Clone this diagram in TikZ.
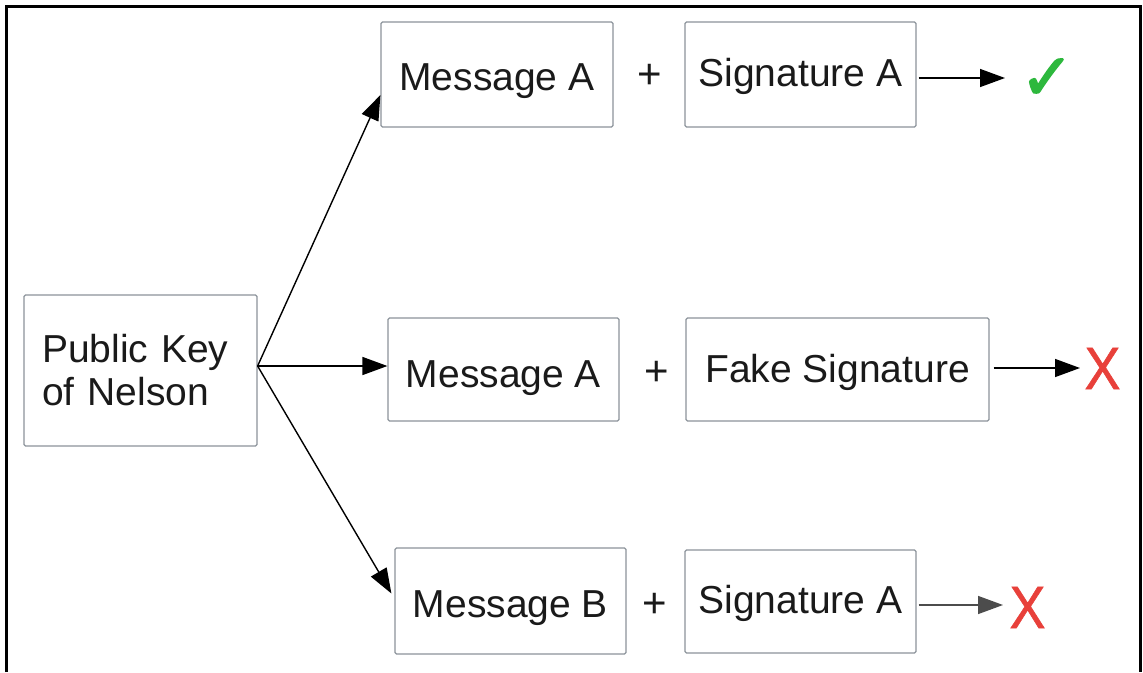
\documentclass[tikz,border=0pt]{standalone}
\usepackage{fontspec}
\setmainfont{Liberation Sans}
\newfontfamily\symfont[FakeBold=2.5]{DejaVu Sans}
\newfontfamily\crossfont[FakeBold=1]{Liberation Sans}
\usetikzlibrary{arrows.meta,calc}
\definecolor{boxgray}{HTML}{8C939B}
\definecolor{okgreen}{HTML}{2DB83D}
\definecolor{badred}{HTML}{E8403A}
\definecolor{txt}{HTML}{1A1A1A}
\tikzset{
  box/.style={draw=boxgray, line width=1.2pt, rounded corners=1.5pt, fill=white,
    inner sep=0pt, text=txt, font=\fontsize{39}{43}\selectfont},
  capshift/.style={text height=#1, text depth=0pt},
  plus/.style={text=txt, font=\fontsize{42}{42}\selectfont, inner sep=0pt},
  arr/.style={-{Triangle[length=25pt,width=18pt]}, line width=1.4pt, draw=black},
  okmark/.style={text=okgreen, font=\symfont\fontsize{64}{64}\selectfont, inner sep=0pt},
  badmark/.style={text=badred, font=\crossfont\fontsize{60}{60}\selectfont, inner sep=0pt, xscale=0.9},
}
\begin{document}
\begin{tikzpicture}[x=1pt,y=-1pt]
\useasboundingbox (0,0) rectangle (1143,672);
\fill[white] (0,0) rectangle (1143,672);
\draw[line width=3pt, line join=miter] (6.5,672) -- (6.5,6.5) -- (1140.5,6.5) -- (1140.5,672);

% left box
\node[box, minimum width=233pt, minimum height=151pt, text width=197pt, align=left,
  inner xsep=18pt] (pk) at (140.5,370.5) {Public Key\\of Nelson};

% top row
\node[box, capshift=31pt, minimum width=232pt, minimum height=105pt] (m1) at (497,74.5) {Message A};
\node[plus] (p1) at (650,76) {+};
\node[box, capshift=24pt, minimum width=231pt, minimum height=105pt] (s1) at (800.5,74.5) {Signature A};
\node[okmark] (ok) at (1047,79) {✓};

% middle row
\node[box, capshift=35pt, minimum width=231pt, minimum height=103pt] (m2) at (503.5,369.5) {Message A};
\node[plus] (p2) at (656.5,373.5) {+};
\node[box, capshift=25pt, minimum width=303pt, minimum height=103pt] (s2) at (837.5,369.5) {Fake Signature};
\node[badmark] (x2) at (1102.5,368.5) {X};

% bottom row
\node[box, capshift=32pt, minimum width=231pt, minimum height=106pt] (m3) at (510.5,601) {Message B};
\node[plus] (p3) at (655,605) {+};
\node[box, capshift=23pt, minimum width=231pt, minimum height=103pt] (s3) at (800.5,601.5) {Signature A};
\node[badmark] (x3) at (1027.5,607.5) {X};

% connectors from the public key
\coordinate (src) at ($(pk.east)+(0,-4.5)$);
\draw[arr] (src) -- ([yshift=-20.5pt]m1.west);
\draw[arr] (src) -- (m2.west |- src);
\draw[arr] (src) -- ([yshift=7.5pt,xshift=-3pt]m3.west);

% result arrows
\coordinate (e1) at ($(s1.east)+(2,3.5)$);
\coordinate (t1) at (1005,78);
\draw[arr] (e1) -- (t1);
\coordinate (e2) at ($(s2.east)+(4,-1.5)$);
\coordinate (t2) at (1080,368);
\draw[arr] (e2) -- (t2);
\coordinate (e3) at ($(s3.east)+(2,3.5)$);
\coordinate (t3) at (1003,605);
\draw[arr, draw=black!70] (e3) -- (t3);
\end{tikzpicture}
\end{document}
